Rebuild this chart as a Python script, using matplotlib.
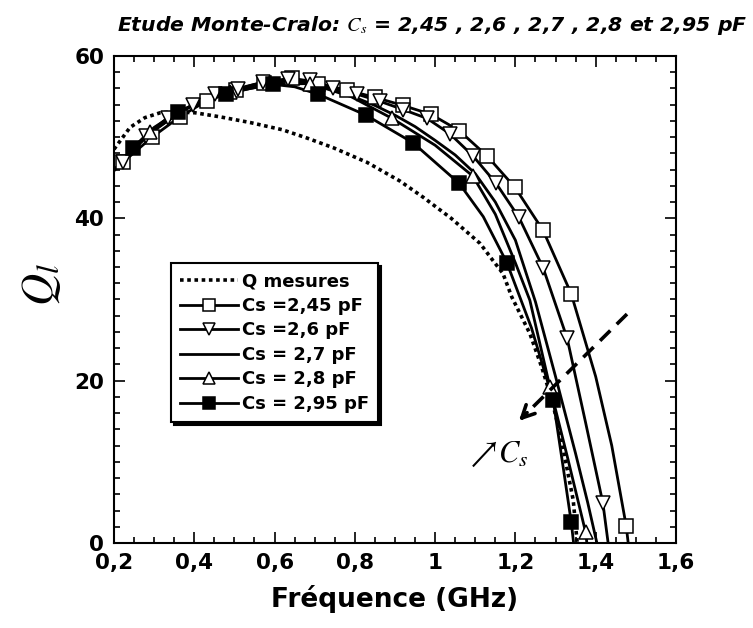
import numpy as np
import matplotlib
matplotlib.use('Agg')
import matplotlib.pyplot as plt
from matplotlib.lines import Line2D
from matplotlib.ticker import MultipleLocator

plt.rcParams['font.family'] = ['DejaVu Sans']
plt.rcParams['mathtext.fontset'] = 'stix'

# Q mesures (courbe pointillee)
freq_mes = [0.2, 0.24, 0.277, 0.315, 0.347, 0.402, 0.464, 0.539, 0.62, 0.68, 0.746, 0.83,
            0.912, 0.97, 1.04, 1.112, 1.144, 1.169, 1.191, 1.216, 1.236, 1.266, 1.291,
            1.311, 1.328, 1.344, 1.354]
q_mes = [48.5, 51.2, 52.4, 53.0, 53.1, 53.0, 52.5, 51.8, 50.9, 49.9, 48.7, 46.9,
         44.6, 42.6, 40.0, 36.9, 34.8, 33.2, 30.3, 27.8, 25.8, 21.6, 17.6,
         13.5, 9.3, 5.3, 0.0]

# Cs = 2,45 pF
freq_245 = [0.2, 0.222, 0.295, 0.364, 0.432, 0.504, 0.574, 0.643, 0.708, 0.78, 0.85, 0.92,
            0.99, 1.06, 1.129, 1.199, 1.269, 1.339, 1.40, 1.44, 1.476, 1.481]
q_245 = [45.9, 46.9, 50.0, 52.5, 54.5, 55.8, 56.7, 57.3, 56.6, 55.8, 54.9, 53.9,
         52.8, 50.8, 47.7, 43.8, 38.5, 30.7, 20.5, 12.0, 2.1, 0.0]
mk_freq_245 = [0.222, 0.295, 0.364, 0.432, 0.504, 0.574, 0.643, 0.708, 0.78, 0.85, 0.92,
               0.99, 1.06, 1.129, 1.199, 1.269, 1.339, 1.476]
mk_q_245 = [46.9, 50.0, 52.5, 54.5, 55.8, 56.7, 57.3, 56.6, 55.8, 54.9, 53.9,
            52.8, 50.8, 47.7, 43.8, 38.5, 30.7, 2.1]

# Cs = 2,6 pF
freq_26 = [0.2, 0.222, 0.28, 0.334, 0.397, 0.452, 0.509, 0.571, 0.633, 0.688, 0.746, 0.805,
           0.863, 0.92, 0.98, 1.037, 1.094, 1.152, 1.209, 1.269, 1.329, 1.375, 1.418, 1.431]
q_26 = [45.9, 46.9, 50.2, 52.4, 54.0, 55.3, 55.9, 56.8, 57.1, 57.0, 56.1, 55.3,
        54.4, 53.4, 52.3, 50.4, 47.7, 44.3, 40.1, 33.9, 25.2, 14.8, 4.9, 0.0]
mk_freq_26 = [0.222, 0.28, 0.334, 0.397, 0.452, 0.509, 0.571, 0.633, 0.688, 0.746, 0.805,
              0.863, 0.92, 0.98, 1.037, 1.094, 1.152, 1.209, 1.269, 1.329, 1.418]
mk_q_26 = [46.9, 50.2, 52.4, 54.0, 55.3, 55.9, 56.8, 57.1, 57.0, 56.1, 55.3,
           54.4, 53.4, 52.3, 50.4, 47.7, 44.3, 40.1, 33.9, 25.2, 4.9]

# Cs = 2,7 pF (sans symbole)
freq_27 = [0.2, 0.25, 0.3, 0.35, 0.4, 0.45, 0.5, 0.55, 0.6, 0.65, 0.7, 0.75, 0.8, 0.85,
           0.9, 0.95, 1.0, 1.05, 1.1, 1.15, 1.2, 1.25, 1.3, 1.35, 1.38, 1.403]
q_27 = [45.9, 48.6, 50.8, 52.6, 54.0, 55.1, 55.9, 56.5, 56.8, 56.9, 56.6, 55.8, 54.9, 53.9,
        52.7, 51.3, 49.6, 47.8, 45.5, 42.0, 37.3, 29.7, 20.5, 11.0, 5.0, 0.0]

# Cs = 2,8 pF
freq_28 = [0.2, 0.29, 0.39, 0.49, 0.59, 0.688, 0.79, 0.893, 1.0, 1.094, 1.15, 1.2, 1.236,
           1.286, 1.33, 1.375, 1.378]
q_28 = [45.9, 50.6, 53.8, 55.5, 56.5, 56.6, 55.0, 52.3, 49.0, 45.2, 40.5, 34.5, 29.9,
        19.2, 10.5, 1.3, 0.0]
mk_freq_28 = [0.29, 0.49, 0.688, 0.893, 1.094, 1.286, 1.375]
mk_q_28 = [50.6, 55.5, 56.6, 52.3, 45.2, 19.2, 1.3]

# Cs = 2,95 pF
freq_295 = [0.2, 0.247, 0.3, 0.359, 0.42, 0.479, 0.54, 0.596, 0.65, 0.708, 0.828, 0.945,
            1.06, 1.12, 1.179, 1.24, 1.294, 1.32, 1.339, 1.345]
q_295 = [45.9, 48.7, 51.2, 53.1, 54.4, 55.3, 56.0, 56.5, 56.2, 55.3, 52.7, 49.3,
         44.3, 40.2, 34.5, 26.5, 17.6, 9.0, 2.6, 0.0]
mk_freq_295 = [0.247, 0.359, 0.479, 0.596, 0.708, 0.828, 0.945, 1.06, 1.179, 1.294, 1.339]
mk_q_295 = [48.7, 53.1, 55.3, 56.5, 55.3, 52.7, 49.3, 44.3, 34.5, 17.6, 2.6]

xticks = [0.2, 0.4, 0.6, 0.8, 1.0, 1.2, 1.4, 1.6]
xticklabels = ['0,2', '0,4', '0,6', '0,8', '1', '1,2', '1,4', '1,6']
yticks = [0, 20, 40, 60]
yticklabels = ['0', '20', '40', '60']

# fleche Cs (tiretee)
arrow_start = (1.478, 28.2)
arrow_tip = (1.204, 14.8)

fig = plt.figure(figsize=(7.53, 6.28), dpi=100)
ax = fig.add_axes([0.1514, 0.1354, 0.7463, 0.7755])

lw = 2.0
ms = 9.5
mew = 1.1

ax.plot(freq_mes, q_mes, color='k', lw=2.6, linestyle=(0, (1, 1)), dash_capstyle='butt', zorder=3)
ax.plot(freq_245, q_245, color='k', lw=lw, zorder=2)
ax.plot(freq_26, q_26, color='k', lw=lw, zorder=2)
ax.plot(freq_27, q_27, color='k', lw=lw, zorder=2)
ax.plot(freq_28, q_28, color='k', lw=lw, zorder=2)
ax.plot(freq_295, q_295, color='k', lw=lw, zorder=2)

ax.plot(mk_freq_245, mk_q_245, ls='none', marker='s', ms=ms, mfc='white', mec='k', mew=mew, zorder=4)
ax.plot(mk_freq_26, mk_q_26, ls='none', marker='v', ms=ms + 1, mfc='white', mec='k', mew=mew, zorder=4)
ax.plot(mk_freq_28, mk_q_28, ls='none', marker='^', ms=ms + 1, mfc='white', mec='k', mew=mew, zorder=4)
ax.plot(mk_freq_295, mk_q_295, ls='none', marker='s', ms=ms, mfc='k', mec='k', mew=mew, zorder=4)

# fleche tiretee
ax.plot([arrow_start[0], arrow_tip[0] + 0.01], [arrow_start[1], arrow_tip[1] + 0.5],
        color='k', lw=2.6, linestyle=(0, (4, 2.5)), zorder=5)
ax.annotate('', xy=arrow_tip, xytext=(arrow_tip[0] + 0.03, arrow_tip[1] + 1.5),
            arrowprops=dict(arrowstyle='->,head_length=0.9,head_width=0.45', lw=2.6, color='k'),
            zorder=5)
ax.text(1.075, 10.0, r'$\nearrow\!C_s$', fontsize=22, va='baseline', ha='left')

ax.set_xlim(0.2, 1.6)
ax.set_ylim(0, 60)
ax.set_xticks(xticks)
ax.set_xticklabels(xticklabels)
ax.set_yticks(yticks)
ax.set_yticklabels(yticklabels)
ax.xaxis.set_minor_locator(MultipleLocator(0.05))
ax.yaxis.set_minor_locator(MultipleLocator(2))
ax.tick_params(which='both', direction='in', top=True, right=True, width=1.2)
ax.tick_params(which='major', length=8, labelsize=15.5, pad=7)
ax.tick_params(which='minor', length=4.5)
for lab in ax.get_xticklabels() + ax.get_yticklabels():
    lab.set_fontweight('bold')
for sp in ax.spines.values():
    sp.set_linewidth(1.5)

ax.set_xlabel('Fréquence (GHz)', fontsize=19, fontweight='bold', labelpad=9)
ax.set_ylabel(r'$Q_l$', fontsize=32)
ax.yaxis.set_label_coords(-0.09, 0.53)

fig.text(117 / 753, 1 - 31 / 628, r'Etude Monte-Cralo: $C_s$ = 2,45 , 2,6 , 2,7 , 2,8 et 2,95 pF',
         fontsize=14.7, fontweight='bold', style='italic', ha='left', va='baseline')

handles = [
    Line2D([], [], color='k', lw=2.6, linestyle=(0, (1, 1)), dash_capstyle='butt'),
    Line2D([], [], color='k', lw=lw, marker='s', ms=8, mfc='white', mec='k', mew=mew),
    Line2D([], [], color='k', lw=lw, marker='v', ms=8.5, mfc='white', mec='k', mew=mew),
    Line2D([], [], color='k', lw=lw),
    Line2D([], [], color='k', lw=lw, marker='^', ms=8.5, mfc='white', mec='k', mew=mew),
    Line2D([], [], color='k', lw=lw, marker='s', ms=8, mfc='k', mec='k', mew=mew),
]
labels = ['Q mesures', 'Cs =2,45 pF', 'Cs =2,6 pF', 'Cs = 2,7 pF', 'Cs = 2,8 pF', 'Cs = 2,95 pF']
leg = ax.legend(handles, labels, loc='upper left', bbox_to_anchor=(0.101, 0.574),
                borderaxespad=0, fancybox=False, edgecolor='k', framealpha=1,
                prop={'weight': 'bold', 'size': 13}, handlelength=3.2, handletextpad=0.25,
                labelspacing=0.36, borderpad=0.5, shadow={'color': 'k', 'alpha': 1})
leg.get_frame().set_linewidth(1.5)

fig.savefig('out.png', dpi=100)
